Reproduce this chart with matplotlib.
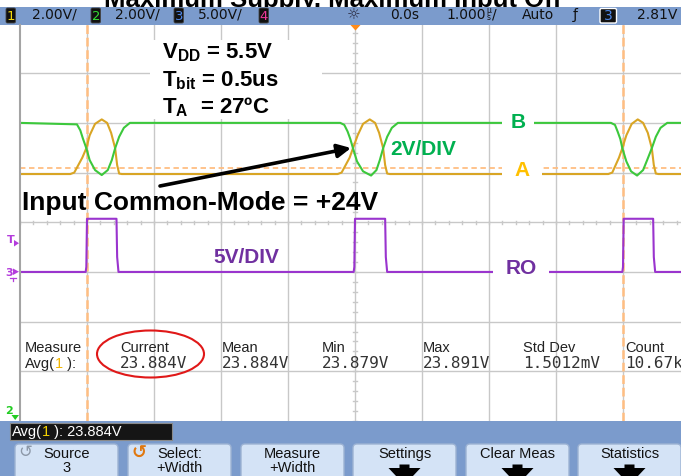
import matplotlib
matplotlib.use("Agg")
import matplotlib.pyplot as plt
from matplotlib.patches import Rectangle, FancyBboxPatch, Ellipse, Polygon
import numpy as np

plt.rcParams["mathtext.fontset"] = "custom"
plt.rcParams["mathtext.rm"] = "Liberation Sans:bold"
plt.rcParams["mathtext.it"] = "Liberation Sans:bold"
plt.rcParams["mathtext.bf"] = "Liberation Sans:bold"
plt.rcParams["mathtext.sf"] = "Liberation Sans:bold"

# ---------------- data ----------------
TITLE = "Maximum Supply, Maximum Input Off"

ch_labels = ["1", "2", "3", "4"]
ch_scales = ["2.00V/", "2.00V/", "5.00V/", ""]
time_pos = "0.0s"
time_scale = "1.000"
trig_mode = "Auto"
trig_source = "3"
trig_level = "2.81V"

ab_volts_per_div = 2.0
ab_center_volts = 22.0
ro_volts_per_div = 5.0
ro_ground_div = -1.0

# Channel 2 : B  (time in us, volts)
b_time = [-5.00, -4.15, -4.10, -4.06, -4.01, -3.96, -3.88, -3.78, -3.69, -3.63, -3.58, -3.52, -3.45, -3.36,
          -0.22, -0.16, -0.11, -0.07, -0.03, 0.03, 0.12, 0.24, 0.32, 0.37, 0.42, 0.48, 0.55, 0.64,
          3.82, 3.88, 3.92, 3.96, 3.99, 4.05, 4.12, 4.21, 4.30, 4.36, 4.43, 4.49, 4.56, 4.66, 5.00]
b_volt = [26.0, 25.94, 25.70, 25.36, 24.98, 24.50, 24.10, 23.90, 24.10, 24.50, 24.98, 25.44, 25.80, 26.0,
          26.0, 25.92, 25.65, 25.35, 24.98, 24.45, 24.05, 23.88, 24.10, 24.50, 24.98, 25.44, 25.80, 26.0,
          26.0, 25.92, 25.65, 25.35, 24.98, 24.45, 24.05, 23.88, 24.10, 24.50, 24.98, 25.44, 25.80, 26.0, 26.0]

# Channel 1 : A
a_time = [-5.00, -4.25, -4.19, -4.13, -4.07, -4.01, -3.96, -3.88, -3.78, -3.70, -3.64, -3.58, -3.55, -3.52, -3.48,
          -0.26, -0.20, -0.14, -0.08, -0.03, 0.04, 0.12, 0.22, 0.30, 0.36, 0.42, 0.45, 0.48, 0.52,
          3.78, 3.84, 3.89, 3.94, 3.99, 4.05, 4.13, 4.22, 4.30, 4.37, 4.43, 4.46, 4.49, 4.53, 5.00]
a_volt = [23.94, 23.94, 24.00, 24.30, 24.60, 24.98, 25.50, 25.96, 26.14, 26.00, 25.60, 24.98, 24.30, 23.96, 23.94,
          23.94, 24.00, 24.30, 24.60, 24.98, 25.50, 25.96, 26.14, 26.00, 25.60, 24.98, 24.30, 23.96, 23.94,
          23.94, 24.00, 24.30, 24.60, 24.98, 25.50, 25.96, 26.14, 26.00, 25.60, 24.98, 24.30, 23.96, 23.94, 23.94]

# Channel 3 : RO
ro_time = [-5.00, -4.02, -4.01, -4.00, -3.56, -3.55, -3.53,
           -0.02, -0.01, 0.00, 0.45, 0.46, 0.48,
           3.99, 4.00, 4.01, 4.45, 4.46, 4.48, 5.00]
ro_volt = [0.0, 0.0, 0.5, 5.35, 5.35, 1.5, 0.0,
           0.0, 0.5, 5.35, 5.35, 1.5, 0.0,
           0.0, 0.5, 5.35, 5.35, 1.5, 0.0, 0.0]

cursor_times = [-4.0, 4.0]
cursor_level = 24.2

meas_labels = ["Current", "Mean", "Min", "Max", "Std Dev", "Count"]
meas_values = ["23.884V", "23.884V", "23.879V", "23.891V", "1.5012mV", "10.67k"]
status_value = "23.884V"
softkey_top = ["Source", "Select:", "Measure", "Settings", "Clear Meas", "Statistics"]
softkey_bottom = ["3", "+Width", "+Width", "", "", ""]

# ---------------- styling ----------------
W, H = 681, 476
BAR = "#7B9BCC"
GRID = "#C8C8C8"
GREEN_TR = "#3CC83C"
ORANGE_TR = "#D9A524"
PURPLE_TR = "#9A34CE"
CURSOR = "#FFBE82"
OFF_GREEN = "#00B050"
OFF_ORANGE = "#FFC000"
OFF_PURPLE = "#7030A0"
MARK_PURPLE = "#B43CDC"

fig = plt.figure(figsize=(W / 100, H / 100), dpi=100)
fig.patch.set_facecolor("white")

SX0, SX1, SY0, SY1 = 20, 690, 23.5, 421
ax = fig.add_axes([SX0 / W, 1 - SY1 / H, (SX1 - SX0) / W, (SY1 - SY0) / H])
ax.set_xlim(-5, 5)
ax.set_ylim(-4, 4)
ax.set_facecolor("white")
for s in ax.spines.values():
    s.set_visible(False)
ax.set_xticks([])
ax.set_yticks([])

for t in range(-4, 5):
    ax.axvline(t, color=GRID, lw=1.0, zorder=0)
for d in range(-3, 4):
    ax.axhline(d, color=GRID, lw=1.0, zorder=0)
for t in np.arange(-5, 5.001, 0.2):
    ax.plot([t, t], [-0.035, 0.035], color=GRID, lw=1.0, zorder=0)
for d in np.arange(-4, 4.001, 0.2):
    ax.plot([-0.025, 0.025], [d, d], color=GRID, lw=1.0, zorder=0)


def ab_div(v):
    return (np.asarray(v) - ab_center_volts) / ab_volts_per_div


def ro_div(v):
    return np.asarray(v) / ro_volts_per_div + ro_ground_div


ax.axhline(ab_div(cursor_level), color=CURSOR, lw=1.3, ls=(0, (3, 2)), zorder=1)
for ct in cursor_times:
    ax.axvline(ct, color=CURSOR, lw=1.8, ls=(0, (3.5, 1.5)), zorder=1)

ax.plot(a_time, ab_div(a_volt), color=ORANGE_TR, lw=1.5, zorder=3)
ax.plot(b_time, ab_div(b_volt), color=GREEN_TR, lw=1.5, zorder=3)
ax.plot(ro_time, ro_div(ro_volt), color=PURPLE_TR, lw=1.5, zorder=3)

# ---------------- overlay (pixel coords) ----------------
ov = fig.add_axes([0, 0, 1, 1], zorder=5)
ov.set_xlim(0, W)
ov.set_ylim(H, 0)
ov.axis("off")
ov.patch.set_alpha(0)

title_txt = ov.text(333, 7.0, TITLE, ha="center", va="baseline", fontsize=18.5, fontweight="bold",
                    family="Liberation Sans", color="black", zorder=1)
title_txt.set_clip_path(Rectangle((0, -30), W, 36.5, transform=ov.transData))

# top status bar
ov.add_patch(Rectangle((0, 6.5), W, 18.5, facecolor=BAR, edgecolor="none", zorder=2))
box_x = [6, 91, 174, 259]
box_col = ["#F5D90A", "#33DD33", "#4D86E6", "#F0399A"]
text_x = [32, 115, 198, None]
for bx, lab, col, tx, sc in zip(box_x, ch_labels, box_col, text_x, ch_scales):
    ov.add_patch(FancyBboxPatch((bx, 8), 9.5, 15, boxstyle="round,pad=0,rounding_size=1.5",
                                facecolor="#111111", edgecolor="#444444", lw=0.6, zorder=3))
    ov.text(bx + 4.9, 16, lab, ha="center", va="center", fontsize=9.5, color=col,
            family="DejaVu Sans", zorder=4)
    if tx is not None:
        ov.text(tx, 18.8, sc, ha="left", va="baseline", fontsize=10, color="#111111",
                family="DejaVu Sans", zorder=4)
ov.text(353.5, 15.5, "\u263c", ha="center", va="center", fontsize=11, color="#2A2A40",
        family="DejaVu Sans", zorder=4)
ov.text(390, 18.8, time_pos, ha="left", va="baseline", fontsize=10, color="#111111",
        family="DejaVu Sans", zorder=4)
ov.text(446, 18.8, time_scale, ha="left", va="baseline", fontsize=10, color="#111111",
        family="DejaVu Sans", zorder=4)
ov.text(486.5, 13.2, "\u00b5", ha="left", va="baseline", fontsize=5.5, color="#111111",
        family="DejaVu Sans", zorder=4)
ov.text(486.8, 19.5, "s", ha="left", va="baseline", fontsize=5.5, color="#111111",
        family="DejaVu Sans", zorder=4)
ov.text(491.5, 18.8, "/", ha="left", va="baseline", fontsize=10, color="#111111",
        family="DejaVu Sans", zorder=4)
ov.text(522, 18.8, trig_mode, ha="left", va="baseline", fontsize=10, color="#111111",
        family="DejaVu Sans", zorder=4)
ov.text(575, 18.8, "\u0192", ha="center", va="baseline", fontsize=10, color="#111111",
        family="DejaVu Sans", zorder=4)
ov.add_patch(FancyBboxPatch((600, 8.5), 16.5, 14.5, boxstyle="round,pad=0,rounding_size=1.5",
                            facecolor="#111111", edgecolor="white", lw=1.0, zorder=3))
ov.text(608.3, 16, trig_source, ha="center", va="center", fontsize=10, color="#4D86E6",
        family="DejaVu Sans", zorder=4)
ov.text(637, 18.8, trig_level, ha="left", va="baseline", fontsize=10, color="#111111",
        family="DejaVu Sans", zorder=4)

# trigger position marker
ov.add_patch(Polygon([(350.5, 25), (360.5, 25), (355.5, 30.5)], closed=True,
                     facecolor="#FF8C1A", edgecolor="none", zorder=3))

# screen left border
ov.plot([19.5, 19.5], [25, 421], color="#A4A4A4", lw=1.5, zorder=2)

# left-side markers
ov.text(11, 243, "T", ha="center", va="baseline", fontsize=8, fontweight="bold",
        color=MARK_PURPLE, family="DejaVu Sans", zorder=3)
ov.add_patch(Polygon([(14, 240), (14, 246.5), (19, 243.2)], closed=True,
                     facecolor=MARK_PURPLE, edgecolor="none", zorder=3))
ov.text(9, 276, "3", ha="center", va="baseline", fontsize=8, fontweight="bold",
        color=MARK_PURPLE, family="DejaVu Sans", zorder=3)
ov.add_patch(Polygon([(13, 268.5), (13, 275), (19, 271.7)], closed=True,
                     facecolor=MARK_PURPLE, edgecolor="none", zorder=3))
ov.plot([9.5, 15.5], [277.5, 277.5], color=MARK_PURPLE, lw=0.9, zorder=3)
ov.plot([12.5, 12.5], [277.5, 280.5], color=MARK_PURPLE, lw=0.9, zorder=3)
ov.text(8.5, 414.5, "2", ha="center", va="baseline", fontsize=8, fontweight="bold",
        color="#22CC22", family="DejaVu Sans", zorder=3)
ov.add_patch(Polygon([(11.5, 415), (19, 415), (15.2, 420)], closed=True,
                     facecolor="#22CC22", edgecolor="none", zorder=3))

# annotation block (white background)
ov.add_patch(Rectangle((150, 40), 172, 79, facecolor="white", edgecolor="none", zorder=1))
ann_kw = dict(ha="left", va="baseline", fontsize=16, fontweight="bold", family="Liberation Sans",
              color="black", zorder=3)
ov.text(162, 58.3, r"$\mathrm{V_{DD}}$ = 5.5V", **ann_kw)
ov.text(162, 86.7, r"T$_{\mathrm{bit}}$ = 0.5us", **ann_kw)
ov.text(162, 113.3, r"T$_{\mathrm{A}}$  = 27ºC", **ann_kw)

ov.text(22, 210, "Input Common-Mode = +24V", ha="left", va="baseline", fontsize=19,
        fontweight="bold", family="Liberation Sans", color="black", zorder=3)
ov.annotate("", xy=(351, 148), xytext=(160, 186),
            arrowprops=dict(arrowstyle="-|>", lw=2.6, color="black", mutation_scale=20,
                            shrinkA=0, shrinkB=0), zorder=3)

lab_kw = dict(fontsize=15, fontweight="bold", family="Liberation Sans", zorder=4)
ov.text(390, 155, "2V/DIV", ha="left", va="baseline", color=OFF_GREEN, **lab_kw)
ov.text(213, 263, "5V/DIV", ha="left", va="baseline", color=OFF_PURPLE, **lab_kw)
ov.text(518, 123, "B", ha="center", va="center", color=OFF_GREEN,
        bbox=dict(boxstyle="square,pad=0.42", facecolor="white", edgecolor="none"), **lab_kw)
ov.text(522, 170, "A", ha="center", va="center", color=OFF_ORANGE,
        bbox=dict(boxstyle="square,pad=0.6", facecolor="white", edgecolor="none"), **lab_kw)
ov.text(521, 268, "RO", ha="center", va="center", color=OFF_PURPLE,
        bbox=dict(boxstyle="square,pad=0.6", facecolor="white", edgecolor="none"), **lab_kw)

# measurement row
fig.canvas.draw()
renderer = fig.canvas.get_renderer()


def pieces_text(x, y, pieces, **kw):
    for s, c in pieces:
        t = ov.text(x, y, s, color=c, **kw)
        x += t.get_window_extent(renderer=renderer).width


mlab_kw = dict(ha="left", va="baseline", fontsize=10.5, family="Liberation Sans", zorder=3)
mval_kw = dict(ha="left", va="baseline", fontsize=11.5, family="DejaVu Sans Mono", zorder=3)
ov.text(25, 352, "Measure", color="#222222", **mlab_kw)
pieces_text(25, 368, [("Avg(", "#222222"), ("1", "#F2B500"), (" ):", "#222222")], **mlab_kw)
meas_x = [120, 222, 322, 423, 523, 625]
for mx, lab, val in zip(meas_x, meas_labels, meas_values):
    ov.text(mx, 352, lab, color="#222222", **mlab_kw)
    ov.text(mx, 368, val, color="#333333", **mval_kw)
ov.add_patch(Ellipse((150.5, 354), 107, 47, facecolor="none", edgecolor="#E01818", lw=1.5, zorder=4))

# bottom panel
ov.add_patch(Rectangle((0, 421), W, H - 421, facecolor=BAR, edgecolor="none", zorder=2))
ov.add_patch(Rectangle((9.5, 422.5), 162, 17.5, facecolor="#151515", edgecolor="#8A8A8A",
                       lw=0.8, zorder=3))
pieces_text(12, 436, [("Avg(", "white"), ("1", "#F2D000"), (" ): " + status_value, "white")],
            ha="left", va="baseline", fontsize=10.5, family="Liberation Sans", zorder=4)

btn_x = [15, 128, 241, 353, 466, 578]
for bx, top, bot in zip(btn_x, softkey_top, softkey_bottom):
    ov.add_patch(FancyBboxPatch((bx, 444), 103, 40, boxstyle="round,pad=0,rounding_size=4",
                                facecolor="#D4E3F6", edgecolor="#9DB3D3", lw=1.0, zorder=3))
    cx = bx + 51.5
    ov.text(cx, 458, top, ha="center", va="baseline", fontsize=10.5, family="Liberation Sans",
            color="#111111", zorder=4)
    if bot:
        ov.text(cx, 472, bot, ha="center", va="baseline", fontsize=10.5, family="Liberation Sans",
                color="#111111", zorder=4)
    else:
        ov.add_patch(Polygon([(cx - 5, 464.5), (cx + 5, 464.5), (cx + 5, 468), (cx + 16, 468),
                              (cx, 485), (cx - 16, 468), (cx - 5, 468)], closed=True,
                             facecolor="black", edgecolor="none", zorder=4))
ov.text(25.5, 452.5, "\u21ba", ha="center", va="center", fontsize=12, color="#8C98A8",
        family="DejaVu Sans", zorder=4)
ov.text(139, 452.5, "\u21ba", ha="center", va="center", fontsize=13, fontweight="bold",
        color="#E07810", family="DejaVu Sans", zorder=4)

fig.savefig("out.png", dpi=100, facecolor="white")
